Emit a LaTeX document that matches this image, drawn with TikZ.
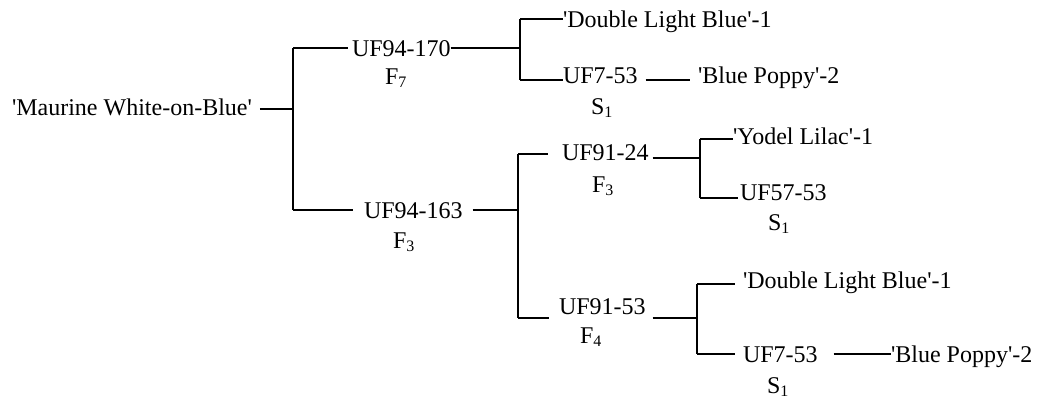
\documentclass[tikz,border=0pt]{standalone}
\usepackage{fontspec}
\setmainfont{Liberation Serif}
\usetikzlibrary{positioning}
\newcommand{\sq}{\textquotesingle}

\begin{document}
\begin{tikzpicture}[x=0.5pt, y=-0.5pt, line width=1pt,
    lbl/.style={inner sep=0pt, outer sep=0pt, anchor=base west, font=\fontsize{12}{14}\selectfont}]
\useasboundingbox (0,0) rectangle (1050,398);

% Plants
\node[lbl] (root)   at (12,115)  {\sq Maurine White-on-Blue\sq};
\node[lbl] (uf170)  at (352,56)  {UF94-170};
\node[lbl] (f7)     at (385,84)  {F\textsubscript{7}};
\node[lbl] (dlbA)   at (563,27)  {\sq Double Light Blue\sq -1};
\node[lbl] (ufA)    at (563,83)  {UF7-53};
\node[lbl] (s1A)    at (591,114) {S\textsubscript{1}};
\node[lbl] (bpA)    at (698,83)  {\sq Blue Poppy\sq -2};
\node[lbl] (uf163)  at (364,218) {UF94-163};
\node[lbl] (f3A)    at (393,248) {F\textsubscript{3}};
\node[lbl] (uf24)   at (562,160) {UF91-24};
\node[lbl] (f3B)    at (592,192) {F\textsubscript{3}};
\node[lbl] (yl)     at (733,144) {\sq Yodel Lilac\sq -1};
\node[lbl] (uf5753) at (740,200) {UF57-53};
\node[lbl] (s1B)    at (768,230) {S\textsubscript{1}};
\node[lbl] (uf9153) at (559,314) {UF91-53};
\node[lbl] (f4)     at (580,343) {F\textsubscript{4}};
\node[lbl] (dlbB)   at (743,288) {\sq Double Light Blue\sq -1};
\node[lbl] (ufB)    at (743,362) {UF7-53};
\node[lbl] (s1C)    at (767,393) {S\textsubscript{1}};
\node[lbl] (bpB)    at (891,362) {\sq Blue Poppy\sq -2};

% Bracket corners
\coordinate (r)  at (293,109);
\coordinate (rt) at (293,48);
\coordinate (rb) at (293,210);
\coordinate (a)  at (520,48);
\coordinate (at) at (520,19);
\coordinate (ab) at (520,80);
\coordinate (b)  at (518,210);
\coordinate (bt) at (518,154);
\coordinate (bb) at (518,318);
\coordinate (c)  at (700,158);
\coordinate (ct) at (700,139);
\coordinate (cb) at (700,198);
\coordinate (d)  at (697,318);
\coordinate (dt) at (697,284);
\coordinate (db) at (697,354);

% Root
\draw ([xshift=4pt]root.east |- r) -- (r);
\draw (rt) -- (rb);

% UF94-170 branch
\draw (rt) -- ([xshift=-2pt]uf170.west |- rt);
\draw (uf170.east |- a) -- (a);
\draw (at) -- (ab);
\draw (at) -- (dlbA.west |- at);
\draw (ab) -- (ufA.west |- ab);
\draw ([xshift=4pt]ufA.east |- ab) -- ([xshift=-4pt]bpA.west |- ab);

% UF94-163 branch
\draw (rb) -- ([xshift=-5.5pt]uf163.west |- rb);
\draw ([xshift=5pt]uf163.east |- b) -- (b);
\draw (bt) -- (bb);

% UF91-24
\draw (bt) -- ([xshift=-7pt]uf24.west |- bt);
\draw ([xshift=2pt]uf24.east |- c) -- (c);
\draw (ct) -- (cb);
\draw (ct) -- (yl.west |- ct);
\draw (cb) -- ([xshift=-1pt]uf5753.west |- cb);

% UF91-53
\draw (bb) -- ([xshift=-5pt]uf9153.west |- bb);
\draw ([xshift=3.5pt]uf9153.east |- d) -- (d);
\draw (dt) -- (db);
\draw (dt) -- ([xshift=-4pt]dlbB.west |- dt);
\draw (db) -- ([xshift=-4pt]ufB.west |- db);
\draw ([xshift=8pt]ufB.east |- db) -- (bpB.west |- db);
\end{tikzpicture}
\end{document}
